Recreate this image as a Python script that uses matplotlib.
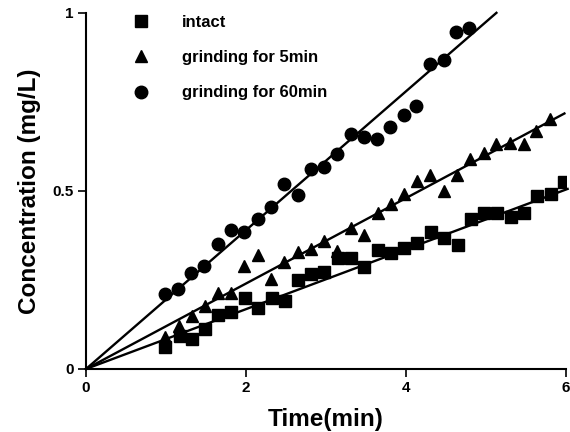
import matplotlib.pyplot as plt

plt.rcParams['font.family'] = ['Liberation Sans', 'DejaVu Sans']
plt.rcParams['font.weight'] = 'bold'

# intact (squares)
x_intact = [0.99, 1.17, 1.32, 1.49, 1.65, 1.81, 1.99, 2.15, 2.32, 2.49, 2.65,
            2.81, 2.98, 3.15, 3.31, 3.48, 3.65, 3.81, 3.98, 4.14, 4.31, 4.48,
            4.65, 4.81, 4.98, 5.14, 5.31, 5.48, 5.64, 5.81, 5.98]
y_intact = [0.063, 0.093, 0.083, 0.111, 0.152, 0.161, 0.199, 0.17, 0.2, 0.192, 0.249,
            0.268, 0.271, 0.311, 0.311, 0.287, 0.334, 0.325, 0.34, 0.355, 0.386, 0.367,
            0.348, 0.421, 0.437, 0.437, 0.427, 0.437, 0.486, 0.492, 0.525]

# grinding for 5 min (triangles)
x_5min = [0.99, 1.16, 1.32, 1.49, 1.65, 1.81, 1.98, 2.15, 2.31, 2.48, 2.65, 2.81,
          2.98, 3.14, 3.31, 3.48, 3.65, 3.81, 3.98, 4.14, 4.3, 4.47, 4.64, 4.8,
          4.97, 5.13, 5.3, 5.47, 5.63, 5.8]
y_5min = [0.09, 0.12, 0.15, 0.176, 0.213, 0.214, 0.289, 0.32, 0.252, 0.30, 0.328, 0.336,
          0.36, 0.33, 0.395, 0.376, 0.437, 0.463, 0.492, 0.527, 0.545, 0.499, 0.545, 0.589,
          0.607, 0.632, 0.636, 0.632, 0.667, 0.701]

# grinding for 60 min (circles)
x_60min = [0.99, 1.15, 1.31, 1.48, 1.65, 1.81, 1.98, 2.15, 2.31, 2.48, 2.65, 2.81,
           2.98, 3.14, 3.31, 3.48, 3.64, 3.8, 3.97, 4.13, 4.3, 4.47, 4.63, 4.79]
y_60min = [0.21, 0.224, 0.27, 0.29, 0.35, 0.39, 0.385, 0.42, 0.455, 0.519, 0.49, 0.563,
           0.566, 0.605, 0.66, 0.651, 0.646, 0.679, 0.713, 0.738, 0.857, 0.868, 0.947, 0.957]

# fitted lines through the origin: slope, end of line on x
slope_intact, end_intact = 0.084, 6.02
slope_5min, end_5min = 0.12, 5.98
slope_60min, end_60min = 0.195, 5.13

fig = plt.figure(figsize=(5.7, 4.32), dpi=100)
ax = fig.add_axes([0.151, 0.146, 0.842, 0.824])

ax.plot(x_intact, y_intact, 's', color='black', ms=8.5, label='intact')
ax.plot(x_5min, y_5min, '^', color='black', ms=9, label='grinding for 5min')
ax.plot(x_60min, y_60min, 'o', color='black', ms=9, label='grinding for 60min')

ax.plot([0, end_intact], [0, slope_intact * end_intact], color='black', lw=1.7, clip_on=False)
ax.plot([0, end_5min], [0, slope_5min * end_5min], color='black', lw=1.7, clip_on=False)
ax.plot([0, end_60min], [0, slope_60min * end_60min], color='black', lw=1.7, clip_on=False)

ax.set_xlim(0, 6)
ax.set_ylim(0, 1)
ax.set_xticks([0, 2, 4, 6])
ax.set_yticks([0, 0.5, 1])
ax.set_yticklabels(['0', '0.5', '1'])
ax.spines['top'].set_visible(False)
ax.spines['right'].set_visible(False)
ax.spines['left'].set_linewidth(1.5)
ax.spines['bottom'].set_linewidth(1.5)
ax.tick_params(length=6, width=1.2, labelsize=11, pad=3)
for lab in ax.get_xticklabels() + ax.get_yticklabels():
    lab.set_fontweight('bold')

ax.set_xlabel('Time(min)', fontsize=17.5, fontweight='bold', labelpad=9)
ax.set_ylabel('Concentration (mg/L)', fontsize=17.5, fontweight='bold', labelpad=8)

ax.legend(loc='upper left', bbox_to_anchor=(0.233, 0.966), bbox_transform=fig.transFigure,
          frameon=False, handlelength=1, handletextpad=1.95,
          labelspacing=1.22, borderpad=0, borderaxespad=0, numpoints=1,
          prop={'weight': 'bold', 'size': 12})

plt.savefig('out.png', dpi=100)
